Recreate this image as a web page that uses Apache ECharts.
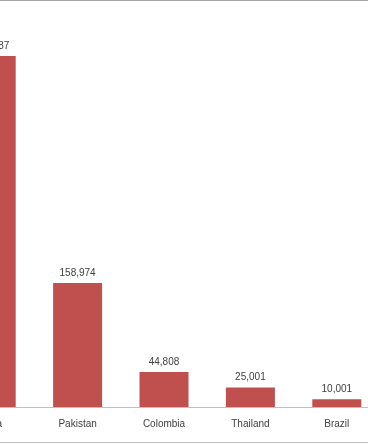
<!DOCTYPE html>
<html>
<head>
<meta charset="utf-8">
<style>
html,body{margin:0;padding:0;background:#fff;}
#frame{position:absolute;left:0;top:0;width:368px;height:443px;border-top:1px solid #a6a6a6;border-bottom:1px solid #bfbfbf;box-sizing:border-box;overflow:hidden;}
#chart{position:absolute;left:-52px;top:-1px;width:432px;height:445px;}
</style>
<script src="https://cdn.jsdelivr.net/npm/echarts@6/dist/echarts.min.js"></script>
</head>
<body>
<div id="frame"><div id="chart"></div></div>
<script>
const categories = ["India", "Pakistan", "Colombia", "Thailand", "Brazil"];
const values = [449987, 158974, 44808, 25001, 10001];

const chart = echarts.init(document.getElementById('chart'), null, {renderer: 'canvas'});
chart.setOption({
  animation: false,
  backgroundColor: 'transparent',
  grid: {left: 0, top: 17, right: 0, bottom: 38, containLabel: false},
  xAxis: {
    type: 'category',
    data: categories,
    axisLine: {show: true, lineStyle: {color: '#bfbfbf', width: 1}},
    axisTick: {show: false},
    axisLabel: {color: '#404040', fontSize: 10, fontFamily: 'Liberation Sans, Arial, sans-serif', margin: 12, interval: 0}
  },
  yAxis: {
    type: 'value', min: 0, max: 500000, show: false,
    splitLine: {show: false}
  },
  series: [{
    type: 'bar',
    data: values,
    barWidth: 49,
    itemStyle: {color: '#c0504d'},
    label: {
      show: true, position: 'top', distance: 5,
      color: '#404040', fontSize: 10, fontFamily: 'Liberation Sans, Arial, sans-serif',
      formatter: p => p.value.toLocaleString('en-US')
    }
  }]
});
</script>
</body>
</html>
